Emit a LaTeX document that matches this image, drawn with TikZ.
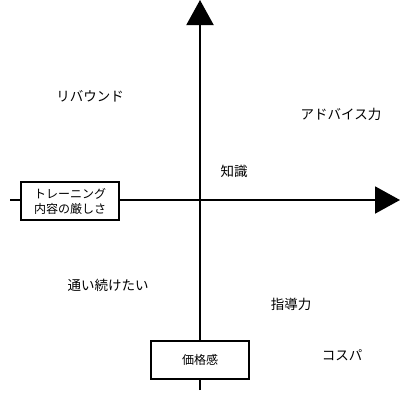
\documentclass[tikz,border=0pt]{standalone}
\usepackage{fontspec}
\setmainfont{Noto Sans CJK JP}
\usetikzlibrary{arrows.meta}
\begin{document}
\begin{tikzpicture}[x=1bp,y=-1bp,
  axis/.style={line width=2bp,-{Triangle[length=25bp,width=27bp]}},
  boxnode/.style={draw,line width=2bp,fill=white,minimum width=98bp,minimum height=38bp,inner sep=0pt,font=\fontsize{12bp}{15bp}\selectfont,align=center},
  lbl/.style={font=\fontsize{13.5bp}{15bp}\selectfont,inner sep=0pt}]
\useasboundingbox (0,0) rectangle (400,400);
\coordinate (xl) at (10,200);
\coordinate (xr) at (400,200);
\coordinate (yb) at (200,390);
\coordinate (yt) at (200,0);
\draw[axis] (xl) -- (xr);
\draw[axis] (yb) -- (yt);
\node[boxnode] (train) at (70,201) {トレーニング\\内容の厳しさ};
\node[boxnode] (price) at (200,360) {価格感};
\node[lbl] (rebound) at (90,96) {リバウンド};
\node[lbl] (advice) at (341,114) {アドバイス力};
\node[lbl] (know) at (234,171) {知識};
\node[lbl] (cont) at (108,285) {通い続けたい};
\node[lbl] (lead) at (291,304) {指導力};
\node[lbl] (cospa) at (342,355) {コスパ};
\end{tikzpicture}
\end{document}
